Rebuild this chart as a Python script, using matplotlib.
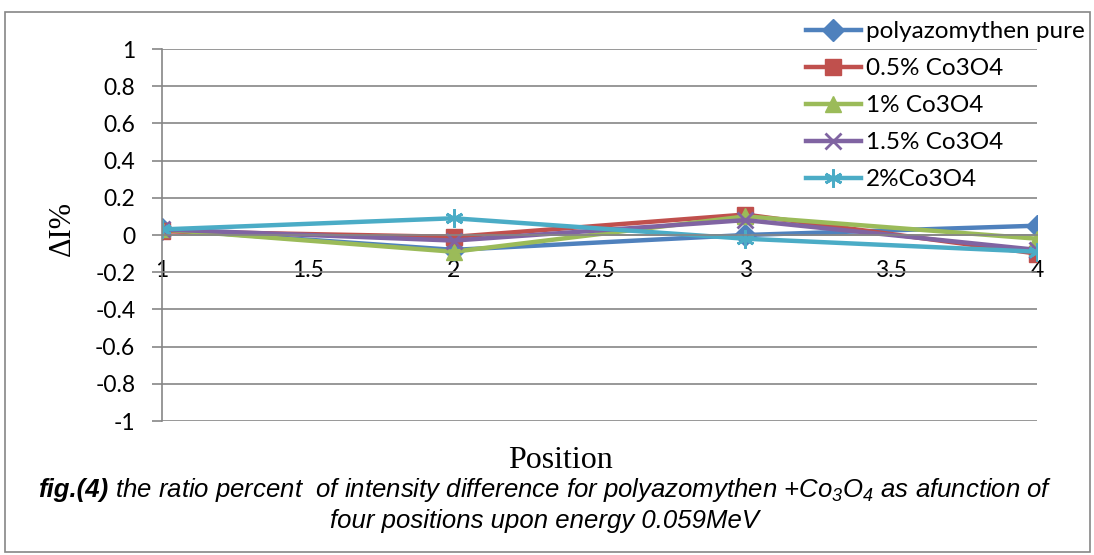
import matplotlib.pyplot as plt
from matplotlib.patches import Rectangle

plt.rcParams['mathtext.fontset'] = 'custom'
plt.rcParams['mathtext.rm'] = 'Liberation Sans:italic'
plt.rcParams['mathtext.it'] = 'Liberation Sans:italic'

# positions along the sample
positions = [1, 2, 3, 4]

# intensity difference ratio (%) for each sample
pure = [0.03, -0.08, 0.00, 0.05]
co_05 = [0.02, -0.01, 0.11, -0.10]
co_1 = [0.03, -0.09, 0.10, -0.02]
co_15 = [0.03, -0.03, 0.08, -0.08]
co_2 = [0.03, 0.09, -0.02, -0.09]

labels = ['polyazomythen pure', '0.5% Co3O4', '1% Co3O4', '1.5% Co3O4', '2%Co3O4']
colors = ['#4F81BD', '#C0504D', '#9BBB59', '#8064A2', '#4BACC6']
markers = ['D', 's', '^', 'x', (6, 2, 0)]
sizes = [11, 11, 11, 11, 13]

xticks = [1, 1.5, 2, 2.5, 3, 3.5, 4]
yticks = [-1, -0.8, -0.6, -0.4, -0.2, 0, 0.2, 0.4, 0.6, 0.8, 1]

fig = plt.figure(figsize=(10.94, 5.55), dpi=100)
ax = fig.add_axes([162 / 1094, 1 - 421 / 555, (1037 - 162) / 1094, (421 - 49) / 555])

for ys, lab, c, m, s in zip([pure, co_05, co_1, co_15, co_2], labels, colors, markers, sizes):
    ax.plot(positions, ys, color=c, linewidth=3.2, marker=m, markersize=s,
            markeredgewidth=2 if m in ('x', (6, 2, 0)) else 1, markeredgecolor=c,
            label=lab, solid_joinstyle='round')

ax.set_xlim(1, 4)
ax.set_ylim(-1, 1)
ax.set_xticks(xticks)
ax.set_xticklabels(['1', '1.5', '2', '2.5', '3', '3.5', '4'])
ax.set_yticks(yticks)
ax.set_yticklabels(['-1', '-0.8', '-0.6', '-0.4', '-0.2', '0', '0.2', '0.4', '0.6', '0.8', '1'])
ax.grid(True, axis='y', color='#868686', linewidth=1.2)
ax.set_axisbelow(True)

for side in ['top', 'right']:
    ax.spines[side].set_visible(False)
ax.spines['bottom'].set_position(('data', 0))
ax.spines['bottom'].set_color('#868686')
ax.spines['left'].set_color('#868686')
ax.spines['bottom'].set_linewidth(1.2)
ax.spines['left'].set_linewidth(1.2)
ax.tick_params(axis='y', length=7.2, color='#868686', width=1.2, labelsize=16.5, pad=12)
ax.tick_params(axis='x', length=0, labelsize=16.5, pad=18)
for t in ax.get_xticklabels() + ax.get_yticklabels():
    t.set_family('Lato')

fig.text(62 / 1094, 1 - 228 / 555, 'ΔI%', family='Liberation Serif', fontsize=22,
         rotation=90, ha='center', va='center')

fig.legend(loc='upper left', bbox_to_anchor=(806 / 1094, 1 - 21 / 555), frameon=False,
           prop={'family': 'Lato', 'size': 17.5}, handlelength=2.25, handletextpad=0.2,
           labelspacing=0.66, borderaxespad=0, borderpad=0)

fig.text(560 / 1094, 1 - 460 / 555, 'Position', family='Liberation Serif', fontsize=23,
         ha='center', va='center')

# caption: bold "fig.(4)" followed by plain italic text, centred as one line
cap_size = 18.5
renderer = fig.canvas.get_renderer()
head = fig.text(0, 1 - 490 / 555, 'fig.(4)', family='Liberation Sans', style='italic',
                weight='bold', fontsize=cap_size, va='center')
tail = fig.text(0, 1 - 490 / 555,
                r' the ratio percent  of intensity difference for polyazomythen +Co$_3$O$_4$ as afunction of',
                family='Liberation Sans', style='italic', fontsize=cap_size, va='center')
w_head = head.get_window_extent(renderer).width
w_tail = tail.get_window_extent(renderer).width
x0 = 545 - (w_head + w_tail) / 2
head.set_x(x0 / 1094)
tail.set_x((x0 + w_head) / 1094)

fig.text(545 / 1094, 1 - 521 / 555, 'four positions upon energy 0.059MeV',
         family='Liberation Sans', style='italic', fontsize=cap_size, ha='center', va='center')

fig.patches.append(Rectangle((5 / 1094, 1 - 552 / 555), 1085 / 1094, 540 / 555,
                             transform=fig.transFigure, fill=False,
                             edgecolor='#868686', linewidth=1.2))

fig.savefig('out.png', dpi=100)
